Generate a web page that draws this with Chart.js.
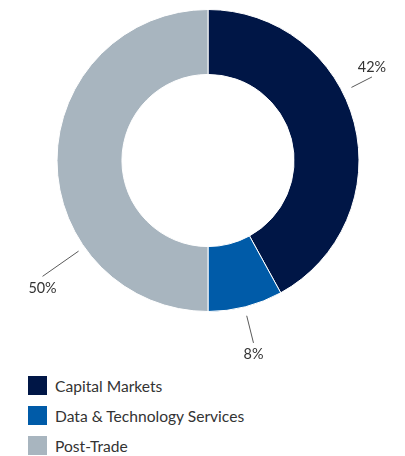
<!DOCTYPE html>
<html>
<head>
<meta charset="utf-8">
<script src="https://cdn.jsdelivr.net/npm/chart.js@4.4.1/dist/chart.umd.min.js"></script>
<style>
  html, body { margin: 0; padding: 0; background: #fff; }
  body { width: 405px; height: 456px; overflow: hidden; font-family: Lato, "Open Sans", sans-serif; position: relative; }
  #wrap { position: absolute; top: 0; left: 0; width: 405px; height: 368px; }
  #legend { list-style: none; margin: 0; padding: 0 0 0 28px; position: absolute; top: 376px; left: 0; }
  #legend li { display: flex; align-items: center; height: 19px; margin-bottom: 11px; color: #333; font-size: 15.6px; }
  #legend .box { width: 19px; height: 19px; margin-right: 8px; flex: none; }
</style>
</head>
<body>
<div id="wrap"><canvas id="mixChart"></canvas></div>
<ul id="legend"></ul>
<script>
const segments = ['Capital Markets', 'Data & Technology Services', 'Post-Trade'];
const shares = [42, 8, 50];
const colours = ['#001646', '#005ba8', '#a8b5bf'];

// where each percentage sits around the ring: [angle in degrees (canvas, 0 = 3 o'clock), line start gap, line length]
const calloutSpots = [
    [-27, 10, 23],
    [76, 9, 28],
    [145, 7, 44]
];

// leader lines + percentage text outside the ring
const callouts = {
    id: 'callouts',
    afterDatasetsDraw(chart) {
        const ctx = chart.ctx;
        const arcs = chart.getDatasetMeta(0).data;
        ctx.save();
        ctx.strokeStyle = '#5a5a5a';
        ctx.lineWidth = 1;
        ctx.fillStyle = '#333';
        ctx.font = '400 16px Lato, sans-serif';
        ctx.textAlign = 'center';
        arcs.forEach((arc, i) => {
            const [deg, gap, len] = calloutSpots[i];
            const a = deg * Math.PI / 180;
            const r0 = arc.outerRadius + gap;
            const r1 = r0 + len;
            const x0 = arc.x + Math.cos(a) * r0, y0 = arc.y + Math.sin(a) * r0;
            const x1 = arc.x + Math.cos(a) * r1, y1 = arc.y + Math.sin(a) * r1;
            ctx.beginPath();
            ctx.moveTo(x0, y0);
            ctx.lineTo(x1, y1);
            ctx.stroke();
            const above = y1 < arc.y;
            ctx.textBaseline = above ? 'bottom' : 'top';
            ctx.save();
            ctx.translate(x1, above ? y1 - 2 : y1 + 3);
            ctx.scale(0.9, 1);
            ctx.fillText(shares[i] + '%', 0, 0);
            ctx.restore();
        });
        ctx.restore();
    }
};

new Chart(document.getElementById('mixChart'), {
    type: 'doughnut',
    data: {
        labels: segments,
        datasets: [{
            data: shares,
            backgroundColor: colours,
            borderColor: '#ffffff',
            borderWidth: 1
        }]
    },
    options: {
        responsive: true,
        maintainAspectRatio: false,
        animation: false,
        cutout: '57%',
        layout: { padding: { top: 9, bottom: 56, left: 11 } },
        plugins: {
            legend: { display: false },
            tooltip: { enabled: false }
        }
    },
    plugins: [callouts]
});

// legend list below the chart
const legend = document.getElementById('legend');
segments.forEach((name, i) => {
    const li = document.createElement('li');
    li.innerHTML = `<span class="box" style="background:${colours[i]}"></span>`;
    li.appendChild(document.createTextNode(name));
    legend.appendChild(li);
});
</script>
</body>
</html>
